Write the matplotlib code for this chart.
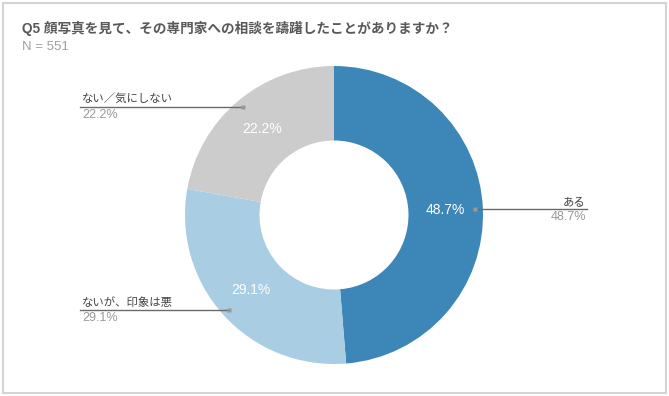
import matplotlib.pyplot as plt
import numpy as np
from matplotlib.patches import Rectangle

plt.rcParams['font.family'] = ['Liberation Sans', 'Noto Sans CJK JP', 'DejaVu Sans']

title = 'Q5 顔写真を見て、その専門家への相談を躊躇したことがありますか？'
subtitle = 'N = 551'
labels = ['ある', 'ないが、印象は悪', 'ない／気にしない']
values = [48.7, 29.1, 22.2]
colors = ['#3d86b8', '#a9cde2', '#cccccc']

W, H = 669, 396
fig = plt.figure(figsize=(W / 100, H / 100), dpi=100)
ax = fig.add_axes([0, 0, 1, 1])

# frame
ax.add_patch(Rectangle((2.5, 3), W - 5.5, H - 5.5, fill=False, ec='#d4d4d4', lw=1.5))

cx, cy, R = 334, H - 215, 149
wedges, _ = ax.pie(values, colors=colors, startangle=90, counterclock=False,
                   center=(cx, cy), radius=R, wedgeprops=dict(width=R * 0.5, linewidth=0),
                   frame=True)
ax.set_xlim(0, W)
ax.set_ylim(0, H)
ax.set_aspect('equal')
ax.axis('off')

# label columns: (text x, alignment)
side = {0: (586, 'right'), 1: (82, 'left'), 2: (82, 'left')}

for i, w in enumerate(wedges):
    ang = np.deg2rad((w.theta1 + w.theta2) / 2)
    # value inside ring
    rm = R * 0.75
    ax.text(cx + rm * np.cos(ang), cy + rm * np.sin(ang), f'{values[i]}%',
            color='white', fontsize=10, ha='center', va='center')
    # leader
    ra = R * 0.95
    px, py = cx + ra * np.cos(ang), cy + ra * np.sin(ang)
    tx, ha = side[i]
    ex = tx + 1 if ha == 'right' else tx - 2
    ax.plot([px, ex], [py, py], color='#6b6b6b', lw=1)
    ax.plot(px, py, 's', ms=2.5, color='#999999', mec='none')
    ax.text(tx, py + 2.5, labels[i], color='#444444', fontsize=8.2, ha=ha, va='bottom')
    ax.text(tx, py - 2, f'{values[i]}%', color='#999999', fontsize=9, ha=ha, va='top')

ax.text(22, H - 28, title, fontsize=9.8, fontweight='bold', color='#595959', va='center')
ax.text(22, H - 47, subtitle, fontsize=9.5, color='#a0a0a0', va='center')

fig.savefig('out.png', dpi=100)
